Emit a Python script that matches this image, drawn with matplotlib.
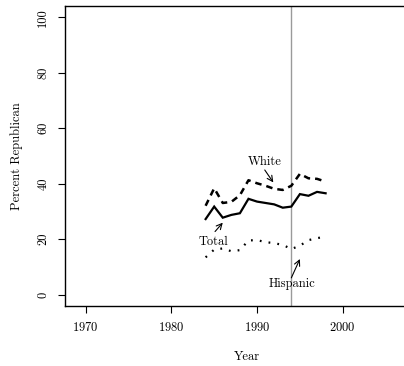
import matplotlib
matplotlib.use('Agg')
import matplotlib.pyplot as plt

plt.rcParams['font.family'] = ['cmr10', 'DejaVu Serif']
plt.rcParams['axes.formatter.use_mathtext'] = True

years = [1984, 1985, 1986, 1987, 1988, 1989, 1990, 1991,
         1992, 1993, 1994, 1995, 1996, 1997, 1998]
total = [27.2, 31.7, 27.7, 28.7, 29.3, 34.5, 33.5, 33.0,
         32.5, 31.3, 31.7, 36.2, 35.6, 37.0, 36.5]
white = [32.0, 38.3, 33.0, 33.4, 35.8, 41.2, 40.1, 39.2,
         38.1, 37.7, 39.2, 43.5, 41.9, 41.7, 40.7]
hispanic = [13.4, 16.2, 16.6, 15.6, 16.0, 19.5, 19.6, 18.9,
            18.5, 17.9, 16.4, 17.6, 19.6, 20.3, 20.9]
x_ticks = [1970, 1980, 1990, 2000]
y_ticks = [0, 20, 40, 60, 80, 100]
cutoff = 1994

fig = plt.figure(figsize=(4.04, 3.66), dpi=100)
ax = fig.add_axes([0.160, 0.165, 0.9005, 0.8185])

ax.axvline(cutoff, color='#9a9a9a', lw=1.0, zorder=1)
ax.plot(years, total, color='black', lw=1.6, solid_joinstyle='miter')
ax.plot(years, white, color='black', lw=1.8, dashes=(2.6, 2.0))
ax.plot(years, hispanic, color='black', lw=1.6, dashes=(0.8, 3.2))

arrow = dict(arrowstyle='->', color='black', lw=0.8, shrinkA=0, shrinkB=0)
ax.annotate('', xy=(1991.9, 40.4), xytext=(1990.9, 44.9), arrowprops=arrow)
ax.text(1990.9, 47.8, 'White', ha='center', va='center', fontsize=9)
ax.annotate('', xy=(1986.0, 25.9), xytext=(1985.1, 22.7), arrowprops=arrow)
ax.text(1984.9, 18.9, 'Total', ha='center', va='center', fontsize=9)
ax.annotate('', xy=(1995.0, 12.8), xytext=(1994.0, 6.0), arrowprops=arrow)
ax.text(1994.1, 3.9, 'Hispanic', ha='center', va='center', fontsize=9)

ax.set_xlim(1967.55, 2010)
ax.set_ylim(-4, 104)
ax.set_xticks(x_ticks)
ax.set_yticks(y_ticks)
ax.set_yticklabels([str(v) for v in y_ticks], rotation=90, va='center')
ax.tick_params(direction='out', length=5, width=0.8, labelsize=9, pad=6)
ax.spines['right'].set_visible(False)
for s in ['left', 'top', 'bottom']:
    ax.spines[s].set_linewidth(1.0)

ax.set_xlabel('Year', fontsize=9, labelpad=12)
ax.set_ylabel('Percent Republican', fontsize=9, labelpad=10)

fig.savefig('out.png', dpi=100)
